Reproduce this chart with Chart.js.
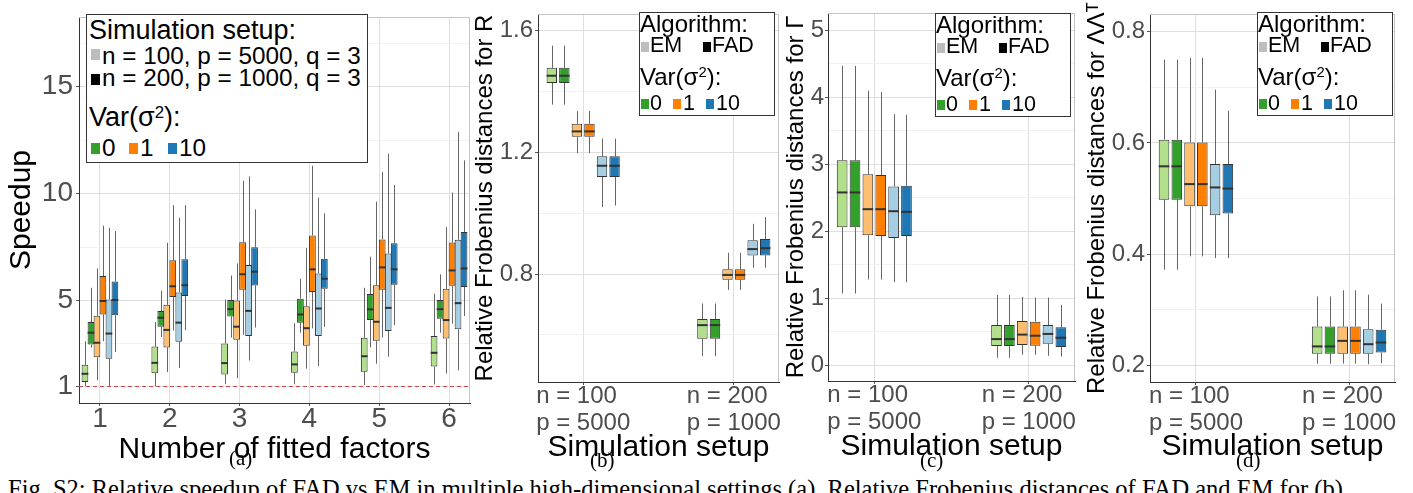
<!DOCTYPE html>
<html>
<head>
<meta charset="utf-8">
<script src="https://cdn.jsdelivr.net/npm/chart.js@4.4.1/dist/chart.umd.min.js"></script>
<style>
  body { margin: 0; background: #fff; width: 1413px; height: 493px; overflow: hidden; position: relative;
         font-family: "Liberation Sans", Arial, sans-serif; }
  canvas { position: absolute; top: 0; }
  .lg { position: absolute; background: #fff; border: 1px solid #333; box-sizing: border-box; }
  .t { position: absolute; white-space: nowrap; line-height: 1; color: #000; }
  .sq { position: absolute; }
  .cap { position: absolute; white-space: nowrap; line-height: 1; color: #000;
         font-family: "Liberation Serif", "Times New Roman", serif; }
  .sup { position: relative; top: -0.5em; font-size: 0.62em; }
</style>
</head>
<body>
<canvas id="cA" width="472" height="470" style="left:0px"></canvas>
<canvas id="cB" width="310" height="470" style="left:472px"></canvas>
<canvas id="cC" width="296" height="470" style="left:782px"></canvas>
<canvas id="cD" width="335" height="470" style="left:1078px"></canvas>

<script>
// ---- data: each box = [min, q1, median, q3, max] ----

// (a) speedup, x = number of fitted factors
const factorCats = [1, 2, 3, 4, 5, 6];
const speedN100Var0 = [[1.0, 1.2, 1.58, 2.0, 3.1], [1.0, 1.61, 2.09, 2.85, 4.0], [1.09, 1.55, 2.08, 3.0, 5.05],
                       [1.09, 1.63, 2.02, 2.62, 3.94], [1.05, 1.68, 2.4, 3.26, 5.6], [1.08, 1.92, 2.56, 3.34, 5.32]];
const speedN200Var0 = [[2.8, 2.95, 3.5, 4.0, 5.6], [3.3, 3.78, 4.2, 4.51, 5.46], [3.27, 4.26, 4.6, 5.03, 6.17],
                       [3.5, 3.97, 4.35, 5.09, 6.02], [2.81, 4.09, 4.59, 5.31, 7.05], [3.5, 4.15, 4.6, 5.03, 6.23]];
const speedN100Var1 = [[1.28, 2.35, 3.03, 4.29, 6.5], [1.66, 2.81, 3.63, 4.8, 7.7], [1.38, 3.17, 3.78, 5.0, 6.74],
                       [1.82, 2.89, 3.71, 4.74, 7.46], [2.05, 3.12, 4.01, 5.72, 9.62], [1.59, 3.23, 4.09, 5.55, 8.43]];
const speedN200Var1 = [[3.1, 4.35, 4.98, 6.15, 8.5], [3.6, 5.17, 5.67, 6.89, 9.46], [3.4, 5.51, 6.23, 7.72, 10.6],
                       [3.7, 5.4, 6.46, 8.04, 11.3], [3.28, 5.51, 6.55, 7.86, 11.0], [3.92, 5.69, 6.41, 7.71, 10.05]];
const speedN100Var10 = [[1.0, 2.28, 3.46, 5.05, 8.4], [1.86, 3.08, 3.97, 5.38, 8.86], [2.2, 3.35, 4.52, 6.66, 10.8],
                        [1.94, 3.35, 4.63, 6.27, 9.81], [2.38, 3.58, 4.66, 7.2, 11.86], [1.74, 3.66, 4.88, 7.84, 12.89]];
const speedN200Var10 = [[2.6, 4.31, 5.03, 5.89, 8.25], [3.62, 5.22, 5.72, 6.93, 9.46], [3.74, 5.71, 6.35, 7.49, 9.26],
                        [3.77, 5.55, 6.02, 6.95, 9.08], [3.85, 5.74, 6.46, 7.68, 10.4], [4.28, 5.63, 6.5, 8.2, 11.55]];
const speedMajor = [1, 5, 10, 15];
const speedMinor = [3, 7.5, 12.5, 17];
const speedRef = 1;

// (b)-(d) share the two simulation setups
const setupCats = [1, 2];
const setupLabels = [["n = 100  ", "p = 5000"], ["n = 200  ", "p = 1000"]];

// (b) R
const rEMVar0 = [[1.357, 1.428, 1.452, 1.478, 1.551], [0.53, 0.587, 0.632, 0.652, 0.703]];
const rFADVar0 = [[1.357, 1.428, 1.452, 1.478, 1.551], [0.53, 0.587, 0.632, 0.652, 0.703]];
const rEMVar1 = [[1.198, 1.251, 1.269, 1.294, 1.336], [0.748, 0.781, 0.797, 0.816, 0.87]];
const rFADVar1 = [[1.198, 1.251, 1.269, 1.294, 1.336], [0.748, 0.781, 0.797, 0.816, 0.87]];
const rEMVar10 = [[1.02, 1.119, 1.156, 1.187, 1.245], [0.821, 0.861, 0.882, 0.911, 0.965]];
const rFADVar10 = [[1.025, 1.119, 1.156, 1.187, 1.245], [0.821, 0.861, 0.885, 0.915, 0.987]];
const rMajor = [0.8, 1.2, 1.6];
const rMinor = [0.6, 1.0, 1.4];

// (c) Gamma
const gEMVar0 = [[1.07, 2.06, 2.58, 3.06, 4.47], [0.11, 0.285, 0.39, 0.6, 1.05]];
const gFADVar0 = [[1.07, 2.06, 2.58, 3.06, 4.47], [0.11, 0.285, 0.39, 0.6, 1.05]];
const gEMVar1 = [[1.28, 1.94, 2.33, 2.85, 4.1], [0.157, 0.3, 0.457, 0.66, 1.02]];
const gFADVar1 = [[1.28, 1.93, 2.33, 2.84, 4.08], [0.157, 0.29, 0.44, 0.65, 1.01]];
const gEMVar10 = [[1.24, 1.9, 2.3, 2.67, 3.75], [0.14, 0.32, 0.467, 0.6, 1.01]];
const gFADVar10 = [[1.24, 1.93, 2.29, 2.68, 3.74], [0.13, 0.27, 0.41, 0.565, 0.9]];
const gMajor = [0, 1, 2, 3, 4, 5];
const gMinor = [0.5, 1.5, 2.5, 3.5, 4.5];

// (d) Lambda Lambda^T
const lEMVar0 = [[0.372, 0.498, 0.558, 0.606, 0.75], [0.203, 0.221, 0.234, 0.27, 0.324]];
const lFADVar0 = [[0.372, 0.498, 0.558, 0.606, 0.75], [0.203, 0.221, 0.234, 0.27, 0.324]];
const lEMVar1 = [[0.396, 0.486, 0.526, 0.601, 0.753], [0.203, 0.221, 0.244, 0.27, 0.335]];
const lFADVar1 = [[0.396, 0.486, 0.526, 0.601, 0.753], [0.203, 0.221, 0.244, 0.27, 0.335]];
const lEMVar10 = [[0.393, 0.47, 0.52, 0.562, 0.696], [0.202, 0.221, 0.238, 0.265, 0.327]];
const lFADVar10 = [[0.393, 0.473, 0.518, 0.562, 0.658], [0.204, 0.223, 0.241, 0.264, 0.311]];
const lMajor = [0.2, 0.4, 0.6, 0.8];
const lMinor = [0.3, 0.5, 0.7];

// light/dark pairs for Var = 0, 1, 10
const fills = ['#b2df8a', '#33a02c', '#fdbf6f', '#ff7f00', '#a6cee3', '#1f78b4'];
const FONT = "'Liberation Sans', 'DejaVu Sans', Arial, sans-serif";

const has = (arr, v) => arr.some(a => Math.abs(a - v) < 1e-9);

// whiskers, medians, panel border and the reference line
const boxPlugin = {
    id: 'boxes',
    beforeDatasetsDraw(chart, args, opts) {
        const { ctx, chartArea: a, scales: { y } } = chart;
        ctx.save();
        ctx.strokeStyle = '#c4c4c4';
        ctx.lineWidth = 1;
        ctx.beginPath();
        ctx.moveTo(a.left, a.top + 0.5);
        ctx.lineTo(a.right - 0.5, a.top + 0.5);
        ctx.lineTo(a.right - 0.5, a.bottom);
        ctx.stroke();

        if (opts.ref != null) {
            const yy = Math.round(y.getPixelForValue(opts.ref)) + 0.5;
            ctx.strokeStyle = '#d24b4b';
            ctx.setLineDash([4, 3]);
            ctx.beginPath();
            ctx.moveTo(a.left, yy);
            ctx.lineTo(a.right, yy);
            ctx.stroke();
            ctx.setLineDash([]);
        }

        ctx.strokeStyle = '#666666';
        ctx.lineWidth = 1;
        chart.data.datasets.forEach((ds, i) => {
            chart.getDatasetMeta(i).data.forEach((bar, j) => {
                const s = ds.stats[j];
                const x = Math.round(bar.x) + 0.5;
                ctx.beginPath();
                ctx.moveTo(x, y.getPixelForValue(s[0]));
                ctx.lineTo(x, y.getPixelForValue(s[1]));
                ctx.moveTo(x, y.getPixelForValue(s[3]));
                ctx.lineTo(x, y.getPixelForValue(s[4]));
                ctx.stroke();
            });
        });
        ctx.restore();
    },
    afterDatasetsDraw(chart) {
        const { ctx, scales: { y } } = chart;
        ctx.save();
        ctx.strokeStyle = '#333333';
        ctx.lineWidth = 2;
        chart.data.datasets.forEach((ds, i) => {
            chart.getDatasetMeta(i).data.forEach((bar, j) => {
                const m = y.getPixelForValue(ds.stats[j][2]);
                ctx.beginPath();
                ctx.moveTo(bar.x - bar.width / 2, m);
                ctx.lineTo(bar.x + bar.width / 2, m);
                ctx.stroke();
            });
        });
        ctx.restore();
    }
};

function boxChart(id, c) {
    const datasets = c.series.map((st, k) => ({
        data: c.cats.map((cat, j) => ({ x: cat, y: [st[j][1], st[j][3]] })),
        stats: st,
        backgroundColor: fills[k],
        borderColor: '#333333',
        borderWidth: 1,
        borderSkipped: false,
        categoryPercentage: c.catPct,
        barPercentage: c.barPct
    }));

    return new Chart(document.getElementById(id), {
        type: 'bar',
        data: { datasets: datasets },
        plugins: [boxPlugin],
        options: {
            responsive: false,
            animation: false,
            devicePixelRatio: 1,
            layout: { padding: { top: c.top, right: c.right, left: 0, bottom: 0 } },
            plugins: { legend: { display: false }, tooltip: { enabled: false }, boxes: { ref: c.ref } },
            scales: {
                x: {
                    type: 'linear',
                    min: c.cats[0] - 0.3,
                    max: c.cats[c.cats.length - 1] + 0.3,
                    offset: false,
                    afterBuildTicks: s => { s.ticks = c.cats.map(v => ({ value: v })); },
                    afterFit: s => { s.height = c.xH; },
                    ticks: {
                        autoSkip: false, maxRotation: 0, color: '#4d4d4d', padding: c.xPad,
                        font: { family: FONT, size: c.xTickSize, lineHeight: c.xTickLH },
                        callback: (v, i) => c.xLabels ? c.xLabels[i] : String(v)
                    },
                    grid: { offset: false, color: '#dedede', lineWidth: 1, tickLength: 3, tickColor: '#555' },
                    border: { display: true, color: '#333', width: 1 },
                    title: {
                        display: true, text: c.xTitle, color: '#000',
                        font: { family: FONT, size: 30, lineHeight: 1 },
                        padding: { top: 0, bottom: c.xTitlePad }
                    }
                },
                y: {
                    min: c.yMin, max: c.yMax,
                    afterBuildTicks: s => {
                        s.ticks = c.major.concat(c.minor).sort((p, q) => p - q).map(v => ({ value: v }));
                    },
                    afterFit: s => { s.width = c.yW; },
                    ticks: {
                        autoSkip: false, color: '#4d4d4d', padding: c.yPad,
                        font: { family: FONT, size: c.yTickSize, lineHeight: 1 },
                        callback: v => has(c.major, v) ? c.fmt(v) : ''
                    },
                    grid: {
                        color: ctx => has(c.major, ctx.tick.value) ? '#dedede' : '#ececec',
                        lineWidth: ctx => has(c.major, ctx.tick.value) ? 1 : 0.7,
                        tickLength: 3,
                        tickColor: ctx => has(c.major, ctx.tick.value) ? '#555' : 'rgba(0,0,0,0)'
                    },
                    border: { display: true, color: '#333', width: 1 },
                    title: {
                        display: true, text: c.yTitle, color: '#000',
                        font: { family: FONT, size: c.yTitleSize, lineHeight: 1 },
                        padding: { top: c.yTitlePad, bottom: 0 }
                    }
                }
            }
        }
    });
}

boxChart('cA', {
    cats: factorCats, xLabels: null,
    series: [speedN100Var0, speedN200Var0, speedN100Var1, speedN200Var1, speedN100Var10, speedN200Var10],
    catPct: 0.515, barPct: 1.12, ref: speedRef,
    top: 12, right: 2, yW: 79, xH: 67,
    yMin: 0.215, yMax: 18.25, major: speedMajor, minor: speedMinor, fmt: v => String(v),
    xTickSize: 28, xTickLH: 1, xPad: -1, yTickSize: 28, yPad: 3,
    xTitle: 'Number of fitted factors', xTitlePad: 5, yTitle: 'Speedup', yTitleSize: 30, yTitlePad: 7
});

boxChart('cB', {
    cats: setupCats, xLabels: setupLabels,
    series: [rEMVar0, rFADVar0, rEMVar1, rFADVar1, rEMVar10, rFADVar10],
    catPct: 0.5, barPct: 0.83, ref: null,
    top: 7, right: 3, yW: 66, xH: 88,
    yMin: 0.445, yMax: 1.655, major: rMajor, minor: rMinor, fmt: v => v.toFixed(1),
    xTickSize: 24, xTickLH: 1.125, xPad: -2, yTickSize: 24, yPad: 2,
    xTitle: 'Simulation setup', xTitlePad: 7, yTitle: 'Relative Frobenius distances for R', yTitleSize: 24, yTitlePad: 1
});

boxChart('cC', {
    cats: setupCats, xLabels: setupLabels,
    series: [gEMVar0, gFADVar0, gEMVar1, gFADVar1, gEMVar10, gFADVar10],
    catPct: 0.5, barPct: 0.83, ref: null,
    top: 8, right: 3, yW: 46, xH: 89,
    yMin: -0.236, yMax: 5.26, major: gMajor, minor: gMinor, fmt: v => String(v),
    xTickSize: 24, xTickLH: 1.125, xPad: -2, yTickSize: 24, yPad: 1,
    xTitle: 'Simulation setup', xTitlePad: 8, yTitle: 'Relative Frobenius distances for \u0393', yTitleSize: 24, yTitlePad: 2
});

boxChart('cD', {
    cats: setupCats, xLabels: setupLabels,
    series: [lEMVar0, lFADVar0, lEMVar1, lFADVar1, lEMVar10, lFADVar10],
    catPct: 0.5, barPct: 0.83, ref: null,
    top: 8, right: 18, yW: 72, xH: 88,
    yMin: 0.17, yMax: 0.832, major: lMajor, minor: lMinor, fmt: v => v.toFixed(1),
    xTickSize: 24, xTickLH: 1.125, xPad: -2, yTickSize: 24, yPad: 2,
    xTitle: 'Simulation setup', xTitlePad: 8, yTitle: 'Relative Frobenius distances for \u039b\u039b\u1d40', yTitleSize: 24, yTitlePad: 7
});

// ---- legends (HTML text) ----
function text(html, x, baseline, size) {
    const d = document.createElement('div');
    d.className = 't';
    d.style.left = x + 'px';
    d.style.top = (baseline - 0.8465 * size) + 'px';
    d.style.fontSize = size + 'px';
    d.innerHTML = html;
    document.body.appendChild(d);
}
function square(color, x, y, w, h) {
    const d = document.createElement('div');
    d.className = 'sq';
    Object.assign(d.style, { left: x + 'px', top: y + 'px', width: w + 'px', height: h + 'px', background: color });
    document.body.appendChild(d);
}
function box(x, y, w, h) {
    const d = document.createElement('div');
    d.className = 'lg';
    Object.assign(d.style, { left: x + 'px', top: y + 'px', width: w + 'px', height: h + 'px' });
    document.body.appendChild(d);
}

const varHtml = 'Var(\u03c3<span class="sup">2</span>):';

// (a) legend: titles a bit larger than the item labels
box(86, 14, 282, 149);
text('Simulation setup:', 89, 40, 27);
square('#bdbdbd', 91, 49, 9, 11);
text('n = 100, p = 5000, q = 3', 102, 65, 24.3);
square('#000', 91, 74, 9, 11);
text('n = 200, p = 1000, q = 3', 102, 87, 24.3);
text(varHtml, 89, 127, 27);
square('#33a02c', 91, 143, 9, 11);
text('0', 102, 157, 24.3);
square('#ff7f00', 129, 143, 9, 11);
text('1', 140, 157, 24.3);
square('#1f78b4', 168, 143, 9, 11);
text('10', 179, 157, 24.3);

// (b)-(d) legends
function algoLegend(x, y) {
    box(x, y, 136, 104);
    text('Algorithm:', x + 1, y + 20.5, 24);
    square('#bdbdbd', x + 2, y + 30, 8, 10);
    text('EM', x + 11, y + 41.5, 21.5);
    square('#000', x + 64, y + 30, 8, 10);
    text('FAD', x + 73, y + 41.5, 21.5);
    text(varHtml, x + 1, y + 73, 24);
    square('#33a02c', x + 2, y + 87, 8, 10);
    text('0', x + 11, y + 99.5, 21.5);
    square('#ff7f00', x + 34, y + 87, 8, 10);
    text('1', x + 44, y + 99.5, 21.5);
    square('#1f78b4', x + 67, y + 87, 8, 10);
    text('10', x + 77, y + 99.5, 21.5);
}
algoLegend(639, 12);
algoLegend(935, 13);
algoLegend(1257, 12);

// ---- sub-figure labels and caption line ----
function cap(str, x, baseline, size) {
    const d = document.createElement('div');
    d.className = 'cap';
    d.style.left = x + 'px';
    d.style.top = (baseline - 0.891 * size) + 'px';
    d.style.fontSize = size + 'px';
    d.textContent = str;
    document.body.appendChild(d);
}
cap('(a)', 229, 467, 21);
cap('(b)', 590, 469, 21);
cap('(c)', 920, 469, 21);
cap('(d)', 1236, 469, 21);
cap('Fig. S2: Relative speedup of FAD vs EM in multiple high-dimensional settings (a). Relative Frobenius distances of FAD and EM for (b)', 8, 499, 24.5);
</script>
</body>
</html>
